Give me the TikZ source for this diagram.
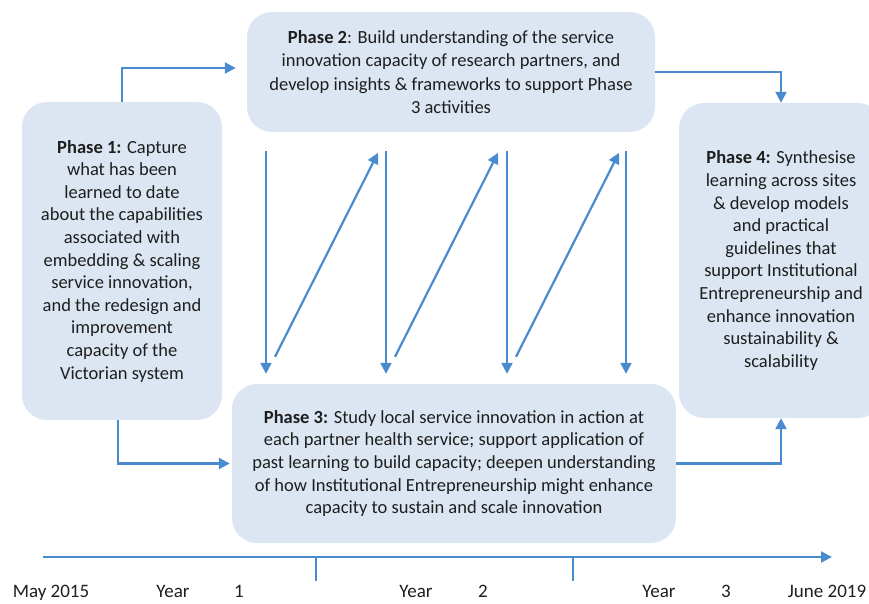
\documentclass[tikz,border=0pt]{standalone}
\usepackage{fontspec}
\setmainfont{Carlito}
\usepackage{tikz}
\usetikzlibrary{calc,arrows.meta}
\definecolor{pfill}{HTML}{DCE6F2}
\definecolor{pline}{HTML}{4A8BCF}
\definecolor{ptext}{HTML}{1E1E1E}

\begin{document}
\begin{tikzpicture}[x=1pt, y=-1pt,
    phase/.style={rectangle, fill=pfill, rounded corners=25pt, inner sep=0pt, text=ptext, font=\fontsize{18.5}{22.6}\selectfont},
    flow/.style={draw=pline, line width=2.2pt, -{Triangle[length=11pt,width=11pt]}},
    tick/.style={draw=pline, line width=1.2pt},
    year/.style={text=ptext, font=\fontsize{19}{22}\selectfont, anchor=base}
    ]
    \useasboundingbox (0,0) rectangle (869,604);
    \clip (0,0) rectangle (869,604);
        % the four phases
        \node[phase, minimum width=200pt, minimum height=318pt] (P1) at (122,261) {\parbox{196pt}{\centering \textbf{Phase 1:} Capture\\what has been\\learned to date\\about the capabilities\\associated with\\embedding \& scaling\\service innovation,\\and the redesign and\\improvement\\capacity of the\\Victorian system}};
        \node[phase, minimum width=408pt, minimum height=120pt, font=\fontsize{18.5}{23.6}\selectfont] (P2) at (451,72) {\parbox{404pt}{\centering \textbf{Phase 2}: Build understanding of the service\\innovation capacity of research partners, and\\develop insights \& frameworks to support Phase\\3 activities}};
        \node[phase, minimum width=444pt, minimum height=159pt] (P3) at (454,463.5) {\parbox{440pt}{\centering \textbf{Phase 3:} Study local service innovation in action at\\each partner health service; support application of\\past learning to build capacity; deepen understanding\\of how Institutional Entrepreneurship might enhance\\capacity to sustain and scale innovation}};
        \node[phase, minimum width=204pt, minimum height=315pt] (P4) at (781,260.5) {\parbox{200pt}{\centering \textbf{Phase 4:} Synthesise\\learning across sites\\\& develop models\\and practical\\guidelines that\\support Institutional\\Entrepreneurship and\\enhance innovation\\sustainability \&\\scalability}};
        % links round the outside
        \draw[flow, shorten >=11pt] (P1.north) |- ($(P2.west)+(0,-4)$);
        \draw[flow] (P2.east) -| (P4.north);
        \draw[flow, shorten >=2pt] ($(P1.south)+(-4,0)$) |- (P3.west);
        \draw[flow] (P3.east) -| (P4.south);
        % back and forth between phase 2 and phase 3
        \foreach \x in {266,386,507,626}
            \draw[flow, shorten <=19pt, shorten >=10pt] (P2.south -| \x,0) -- (P3.north -| \x,0);
        \foreach \x in {275,395,516}
            \draw[flow] (P3.north -| \x,0) ++(0,-27) coordinate (d\x) -- ++(103,-204);
        % timeline
        \coordinate (T0) at (43,557);
        \coordinate (T1) at (832,557);
        \draw[flow] (T0) -- (T1);
        \foreach \x in {316,573}
            \draw[tick] (\x,557) -- (\x,581);
        \node[year] (may) at (51,597) {May 2015};
        \node[year] (y1) at (173,597) {Year};
        \node[year] (n1) at (239,597) {1};
        \node[year] (y2) at (416,597) {Year};
        \node[year] (n2) at (483,597) {2};
        \node[year] (y3) at (659,597) {Year};
        \node[year] (n3) at (726,597) {3};
        \node[year] (june) at (827,597) {June 2019};
    \end{tikzpicture}
\end{document}
